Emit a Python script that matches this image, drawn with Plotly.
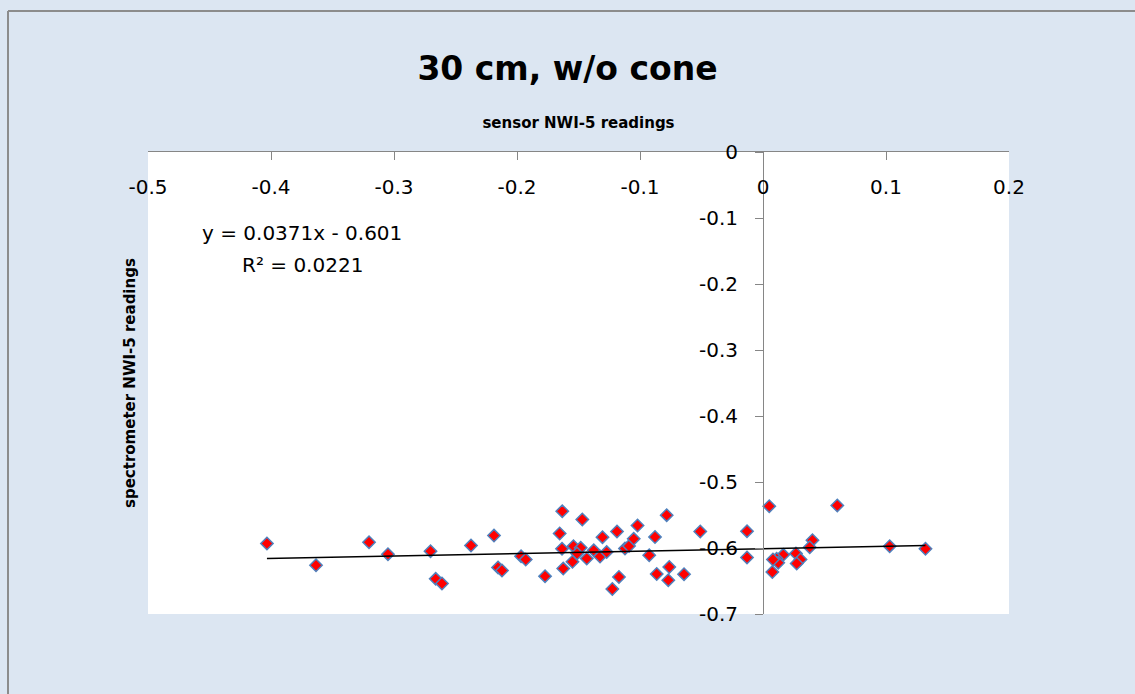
import numpy as np
import plotly.graph_objects as go

# ---- data ----
SENSOR_NWI5 = [
    -0.4033, -0.3634, -0.3203, -0.3049, -0.2703, -0.2661, -0.2610, -0.2374,
    -0.2187, -0.2154, -0.2122, -0.1967, -0.1929, -0.1772, -0.1653, -0.1632,
    -0.1469, -0.1634, -0.1541, -0.1482, -0.1512, -0.1549, -0.1624, -0.1433,
    -0.1376, -0.1325, -0.1271, -0.1305, -0.1187, -0.1225, -0.1171, -0.1122,
    -0.1089, -0.1051, -0.1020, -0.0925, -0.0878, -0.0864, -0.0783, -0.0762,
    -0.0770, -0.0642, -0.0510, -0.0130, -0.0130, 0.0051, 0.0604, 0.0402,
    0.0380, 0.0268, 0.0305, 0.0274, 0.0165, 0.0111, 0.0124, 0.0076,
    0.0081, 0.1030, 0.1321,
]
SPECTROMETER_NWI5 = [
    -0.5932, -0.6261, -0.5912, -0.6094, -0.6048, -0.6467, -0.6538, -0.5962,
    -0.5811, -0.6295, -0.6341, -0.6124, -0.6174, -0.6427, -0.5780, -0.5442,
    -0.5568, -0.6012, -0.5973, -0.5997, -0.6083, -0.6208, -0.6311, -0.6159,
    -0.6035, -0.6129, -0.6061, -0.5836, -0.5750, -0.6621, -0.6439, -0.6008,
    -0.5970, -0.5861, -0.5659, -0.6111, -0.5833, -0.6394, -0.5503, -0.6288,
    -0.6488, -0.6397, -0.5750, -0.5745, -0.6144, -0.5367, -0.5356, -0.5882,
    -0.5988, -0.6083, -0.6174, -0.6235, -0.6103, -0.6164, -0.6224, -0.6364,
    -0.6174, -0.5973, -0.6011,
]
TREND_SLOPE = 0.0371
TREND_INTERCEPT = -0.601
EQUATION_TEXT = "y = 0.0371x - 0.601"
R2_TEXT = "R² = 0.0221"

X_TICKS = [-0.5, -0.4, -0.3, -0.2, -0.1, 0.0, 0.1, 0.2]
X_TICK_LABELS = ["-0.5", "-0.4", "-0.3", "-0.2", "-0.1", "0", "0.1", "0.2"]
Y_TICKS = [0.0, -0.1, -0.2, -0.3, -0.4, -0.5, -0.6, -0.7]
Y_TICK_LABELS = ["0", "-0.1", "-0.2", "-0.3", "-0.4", "-0.5", "-0.6", "-0.7"]

TITLE = "30 cm, w/o cone"
X_TITLE = "sensor NWI-5 readings"
Y_TITLE = "spectrometer NWI-5 readings"

FONT = "DejaVu Sans, sans-serif"
AXIS_GRAY = "#868686"
BORDER_GRAY = "#8C8C8C"

x_arr = np.array(SENSOR_NWI5)
trend_x = np.array([x_arr.min(), x_arr.max()])
trend_y = TREND_SLOPE * trend_x + TREND_INTERCEPT

fig = go.Figure()
fig.add_trace(go.Scatter(
    x=SENSOR_NWI5, y=SPECTROMETER_NWI5, mode="markers",
    marker=dict(symbol="diamond", size=9.5, color="#FF0000",
                line=dict(color="#4F81BD", width=1.5)),
    showlegend=False, hoverinfo="x+y",
))
fig.add_trace(go.Scatter(
    x=trend_x, y=trend_y, mode="lines",
    line=dict(color="black", width=1.5),
    showlegend=False, hoverinfo="skip",
))

W, H = 1135, 694
ML, MR, MT, MB = 148, 126, 152, 80
plot_w = W - ML - MR
plot_h = H - MT - MB
xr = [-0.5, 0.2]
yaxis_pos = (0 - xr[0]) / (xr[1] - xr[0])

left_px, top_px = 8, 11
bx = (left_px - ML) / plot_w
by = 1 + (MT - top_px) / plot_h

fig.update_layout(
    width=W, height=H,
    margin=dict(l=ML, r=MR, t=MT, b=MB, pad=0),
    paper_bgcolor="#DCE6F2",
    plot_bgcolor="white",
    font=dict(family=FONT, color="black", size=20),
    title=dict(text="<b>" + TITLE + "</b>", x=0.5, xref="container",
               y=1 - 68 / H, yref="container", yanchor="middle", xanchor="center",
               font=dict(size=33, family=FONT, color="black")),
    xaxis=dict(
        range=xr, side="top", showgrid=False, zeroline=False,
        showline=True, linecolor=AXIS_GRAY, linewidth=1,
        ticks="inside", ticklen=8, tickcolor=AXIS_GRAY, tickwidth=1,
        tickvals=X_TICKS, ticktext=X_TICK_LABELS,
        ticklabelposition="inside", ticklabeloverflow="allow",
        ticklabelstandoff=21,
        tickfont=dict(size=20, family=FONT, color="black"),
        title=dict(text="<b>" + X_TITLE + "</b>", standoff=42,
                   font=dict(size=15, family=FONT, color="black")),
        automargin=False,
    ),
    yaxis=dict(
        range=[-0.7, 0], anchor="free", position=yaxis_pos, side="left",
        showgrid=False, zeroline=False,
        showline=True, linecolor=AXIS_GRAY, linewidth=1,
        ticks="outside", ticklen=8, tickcolor=AXIS_GRAY, tickwidth=1,
        tickvals=Y_TICKS, ticktext=Y_TICK_LABELS,
        ticklabeloverflow="allow",
        tickfont=dict(size=20, family=FONT, color="black"),
        ticklabelstandoff=13,
        automargin=False,
    ),
    shapes=[
        dict(type="line", xref="paper", yref="paper",
             x0=bx, x1=bx, y0=-0.5, y1=by,
             line=dict(color=BORDER_GRAY, width=2), layer="below"),
        dict(type="line", xref="paper", yref="paper",
             x0=bx, x1=1.5, y0=by, y1=by,
             line=dict(color=BORDER_GRAY, width=2), layer="below"),
    ],
    annotations=[
        dict(text="<b>" + Y_TITLE + "</b>", xref="paper", yref="paper",
             x=(130 - ML) / plot_w, y=0.5, textangle=-90, showarrow=False,
             xanchor="center", yanchor="middle",
             font=dict(size=15, family=FONT, color="black")),
        dict(text=EQUATION_TEXT, xref="x", yref="y", x=-0.3748, y=-0.122,
             showarrow=False, xanchor="center", yanchor="middle",
             font=dict(size=20, family=FONT, color="black")),
        dict(text=R2_TEXT, xref="x", yref="y", x=-0.3748, y=-0.1715,
             showarrow=False, xanchor="center", yanchor="middle",
             font=dict(size=20, family=FONT, color="black")),
    ],
)

fig.write_html("out.html")
